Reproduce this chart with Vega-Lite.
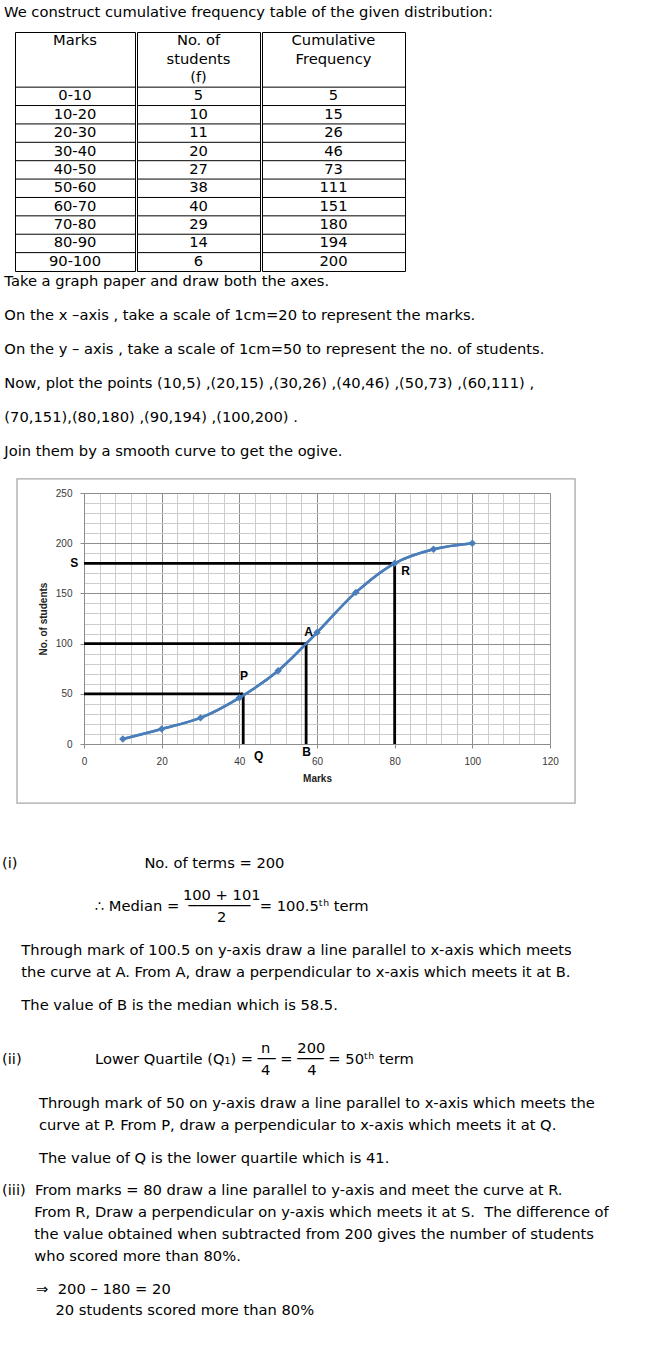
{
  "$schema": "https://vega.github.io/schema/vega-lite/v6.json",
  "background": "white",
  "padding": {"left": 2, "top": 4, "right": 0, "bottom": 0},
  "spacing": 2,
  "config": {
    "view": {"stroke": null},
    "font": "DejaVu Sans",
    "title": {"font": "DejaVu Sans", "fontSize": 14.7, "fontWeight": "normal", "color": "#000", "anchor": "start"},
    "axis": {
      "labelFont": "Liberation Sans", "labelFontSize": 10, "labelColor": "#3a3a3a",
      "titleFont": "Liberation Sans", "titleFontSize": 10, "titleFontWeight": "bold", "titleColor": "#222",
      "domainColor": "#8c8c8c", "tickColor": "#8c8c8c", "tickSize": 4, "labelPadding": 8,
      "labelFlush": false, "labelOverlap": false, "gridWidth": 1
    }
  },
  "datasets": {
    "table": [
      {"marks": "0-10", "f": 5, "cf": 5},
      {"marks": "10-20", "f": 10, "cf": 15},
      {"marks": "20-30", "f": 11, "cf": 26},
      {"marks": "30-40", "f": 20, "cf": 46},
      {"marks": "40-50", "f": 27, "cf": 73},
      {"marks": "50-60", "f": 38, "cf": 111},
      {"marks": "60-70", "f": 40, "cf": 151},
      {"marks": "70-80", "f": 29, "cf": 180},
      {"marks": "80-90", "f": 14, "cf": 194},
      {"marks": "90-100", "f": 6, "cf": 200}
    ],
    "head": [
      {"col": "marks", "line": "h1", "text": "Marks"},
      {"col": "f", "line": "h1", "text": "No. of"},
      {"col": "f", "line": "h2", "text": "students"},
      {"col": "f", "line": "h3", "text": "(f)"},
      {"col": "cf", "line": "h1", "text": "Cumulative"},
      {"col": "cf", "line": "h2", "text": "Frequency"}
    ],
    "ogive": [
      {"marks": 10, "students": 5},
      {"marks": 20, "students": 15},
      {"marks": 30, "students": 26},
      {"marks": 40, "students": 46},
      {"marks": 50, "students": 73},
      {"marks": 60, "students": 111},
      {"marks": 70, "students": 151},
      {"marks": 80, "students": 180},
      {"marks": 90, "students": 194},
      {"marks": 100, "students": 200}
    ],
    "guides": [
      {"marks": 0, "marks2": 80, "students": 180, "students2": 180},
      {"marks": 80, "marks2": 80, "students": 0, "students2": 180},
      {"marks": 0, "marks2": 57.2, "students": 100, "students2": 100},
      {"marks": 57.2, "marks2": 57.2, "students": 0, "students2": 100},
      {"marks": 0, "marks2": 41, "students": 50, "students2": 50},
      {"marks": 41, "marks2": 41, "students": 0, "students2": 50}
    ],
    "points": [
      {"label": "S", "marks": -2.5, "students": 180},
      {"label": "R", "marks": 82.8, "students": 172.5},
      {"label": "A", "marks": 57.8, "students": 112},
      {"label": "P", "marks": 41.2, "students": 68},
      {"label": "Q", "marks": 45, "students": -11.5},
      {"label": "B", "marks": 57.3, "students": -7.5}
    ]
  },
  "title": {
    "orient": "bottom",
    "anchor": "start",
    "dx": -1,
    "offset": 52,
    "lineHeight": 10.92,
    "text": [
      "\u200b(i)\u2003\u2003\u2003\u2003\u2003\u2003\u2003\u2003\u00a0\u00a0No. of terms = 200",
      "\u200b\u00a0",
      "\u200b\u00a0",
      "\u200b\u2003\u2003\u2003\u2003\u2003\u2003\u2003\u2003\u2003\u2003\u2003\u2003\u00a0100 + 101",
      "\u200b\u2003\u2003\u2003\u2003\u2003\u2003\u00a0\u2234 Median = \u00a0\u2500\u2500\u2500\u2500\u2500\u2500\u2500\u00a0 = 100.5\u1d57\u02b0 term",
      "\u200b\u2003\u2003\u2003\u2003\u2003\u2003\u2003\u2003\u2003\u2003\u2003\u2003\u2003\u2003\u00a0\u00a02",
      "\u200b\u00a0",
      "\u200b\u00a0",
      "\u200b\u2003\u00a0Through mark of 100.5 on y-axis draw a line parallel to x-axis which meets",
      "\u200b\u00a0",
      "\u200b\u2003\u00a0the curve at A. From A, draw a perpendicular to x-axis which meets it at B.",
      "\u200b\u00a0",
      "\u200b\u00a0",
      "\u200b\u2003\u00a0The value of B is the median which is 58.5.",
      "\u200b\u00a0",
      "\u200b\u00a0",
      "\u200b\u00a0",
      "\u200b\u2003\u2003\u2003\u2003\u2003\u2003\u2003\u2003\u2003\u2003\u2003\u2003\u2003\u2003\u2003\u2003\u2003\u00a0\u00a0n\u2003\u00a0\u00a0\u2009200",
      "\u200b(ii)\u2003\u2003\u2003\u2003\u2003Lower Quartile (Q\u2081) = \u2500\u2500 = \u2500\u2500\u2500 = 50\u1d57\u02b0 term",
      "\u200b\u2003\u2003\u2003\u2003\u2003\u2003\u2003\u2003\u2003\u2003\u2003\u2003\u2003\u2003\u2003\u2003\u2003\u00a0\u00a04\u2003\u2003\u00a0\u20094",
      "\u200b\u00a0",
      "\u200b\u00a0",
      "\u200b\u2003\u2003\u00a0\u2009Through mark of 50 on y-axis draw a line parallel to x-axis which meets the",
      "\u200b\u00a0",
      "\u200b\u2003\u2003\u00a0\u2009curve at P. From P, draw a perpendicular to x-axis which meets it at Q.",
      "\u200b\u00a0",
      "\u200b\u00a0",
      "\u200b\u2003\u2003\u00a0\u2009The value of Q is the lower quartile which is 41.",
      "\u200b\u00a0",
      "\u200b\u00a0",
      "\u200b(iii)\u00a0\u00a0From marks = 80 draw a line parallel to y-axis and meet the curve at R.",
      "\u200b\u00a0",
      "\u200b\u2003\u2003\u2009From R, Draw a perpendicular on y-axis which meets it at S.\u00a0 The difference of",
      "\u200b\u00a0",
      "\u200b\u2003\u2003\u2009the value obtained when subtracted from 200 gives the number of students",
      "\u200b\u00a0",
      "\u200b\u2003\u2003\u2009who scored more than 80%.",
      "\u200b\u00a0",
      "\u200b\u00a0",
      "\u200b\u2003\u2003\u00a0\u21d2\u00a0\u00a0200 \u2013 180 = 20",
      "\u200b\u00a0",
      "\u200b\u2003\u2003\u2003\u00a0\u00a020 students scored more than 80%"
    ]
  },
  "vconcat": [
    {
      "title": {"text": "We construct cumulative frequency table of the given distribution:", "anchor": "start", "offset": 12, "dx": 1},
      "spacing": 0,
      "hconcat": [
        {
          "width": 11, "height": 239,
          "view": {"fill": "white", "stroke": null},
          "data": {"values": [{}]},
          "mark": {"type": "rect", "opacity": 0},
          "encoding": {}
        },
        {
          "width": 120, "height": 239,
          "view": {"stroke": "#000", "strokeWidth": 1},
          "encoding": {"y": {"field": "marks", "type": "ordinal", "axis": null, "scale": {"type": "band", "domain": ["h1","h2","h3","0-10","10-20","20-30","30-40","40-50","50-60","60-70","70-80","80-90","90-100"], "paddingInner": 0, "paddingOuter": 0}}},
          "layer": [
            {"data": {"name": "table"}, "mark": {"type": "rule", "color": "#000", "strokeWidth": 1}, "encoding": {"y": {"field": "marks", "type": "ordinal", "bandPosition": 0}}},
            {"data": {"name": "table"}, "mark": {"type": "text", "fontSize": 14.7, "color": "#000"}, "encoding": {"text": {"field": "marks", "type": "nominal"}}},
            {"data": {"name": "head"}, "transform": [{"filter": "datum.col === 'marks'"}], "mark": {"type": "text", "fontSize": 14.7, "color": "#000"}, "encoding": {"y": {"field": "line", "type": "ordinal"}, "text": {"field": "text", "type": "nominal"}}}
          ]
        },
        {
          "width": 123, "height": 239,
          "view": {"stroke": "#000", "strokeWidth": 1},
          "encoding": {"y": {"field": "marks", "type": "ordinal", "axis": null, "scale": {"type": "band", "domain": ["h1","h2","h3","0-10","10-20","20-30","30-40","40-50","50-60","60-70","70-80","80-90","90-100"], "paddingInner": 0, "paddingOuter": 0}}},
          "layer": [
            {"data": {"name": "table"}, "mark": {"type": "rule", "color": "#000", "strokeWidth": 1}, "encoding": {"y": {"field": "marks", "type": "ordinal", "bandPosition": 0}}},
            {"data": {"name": "table"}, "mark": {"type": "text", "fontSize": 14.7, "color": "#000"}, "encoding": {"text": {"field": "f", "type": "nominal"}}},
            {"data": {"name": "head"}, "transform": [{"filter": "datum.col === 'f'"}], "mark": {"type": "text", "fontSize": 14.7, "color": "#000"}, "encoding": {"y": {"field": "line", "type": "ordinal"}, "text": {"field": "text", "type": "nominal"}}}
          ]
        },
        {
          "width": 143, "height": 239,
          "view": {"stroke": "#000", "strokeWidth": 1},
          "encoding": {"y": {"field": "marks", "type": "ordinal", "axis": null, "scale": {"type": "band", "domain": ["h1","h2","h3","0-10","10-20","20-30","30-40","40-50","50-60","60-70","70-80","80-90","90-100"], "paddingInner": 0, "paddingOuter": 0}}},
          "layer": [
            {"data": {"name": "table"}, "mark": {"type": "rule", "color": "#000", "strokeWidth": 1}, "encoding": {"y": {"field": "marks", "type": "ordinal", "bandPosition": 0}}},
            {"data": {"name": "table"}, "mark": {"type": "text", "fontSize": 14.7, "color": "#000"}, "encoding": {"text": {"field": "cf", "type": "nominal"}}},
            {"data": {"name": "head"}, "transform": [{"filter": "datum.col === 'cf'"}], "mark": {"type": "text", "fontSize": 14.7, "color": "#000"}, "encoding": {"y": {"field": "line", "type": "ordinal"}, "text": {"field": "text", "type": "nominal"}}}
          ]
        }
      ]
    },
    {
      "spacing": 0,
      "hconcat": [
        {
          "width": 1, "height": 1,
          "view": {"fill": "white", "stroke": null},
          "data": {"values": [{}]},
          "mark": {"type": "rect", "opacity": 0},
          "encoding": {}
        },
        {
          "title": {
            "text": [
              "Take a graph paper and draw both the axes.",
              "On the x \u2013axis , take a scale of 1cm=20 to represent the marks.",
              "On the y \u2013 axis , take a scale of 1cm=50 to represent the no. of students.",
              "Now, plot the points (10,5) ,(20,15) ,(30,26) ,(40,46) ,(50,73) ,(60,111) ,",
              "(70,151),(80,180) ,(90,194) ,(100,200) .",
              "Join them by a smooth curve to get the ogive."
            ],
            "anchor": "start", "dx": -12, "lineHeight": 33.85, "offset": 20
          },
          "width": 466,
          "height": 251,
          "layer": [
            {
              "data": {"name": "ogive"},
              "mark": {"type": "line", "interpolate": "catmull-rom", "color": "#4a7ebb", "strokeWidth": 2.5},
              "encoding": {
                "x": {
                  "field": "marks", "type": "quantitative",
                  "scale": {"domain": [0, 120], "nice": false, "zero": false},
                  "axis": {
                    "title": "Marks", "titlePadding": 7, "tickCount": 100,
                    "values": [0,4,8,12,16,20,24,28,32,36,40,44,48,52,56,60,64,68,72,76,80,84,88,92,96,100,104,108,112,116,120],
                    "labelExpr": "datum.value % 20 === 0 ? datum.label : ''",
                    "tickOpacity": {"condition": {"test": "datum.value % 20 === 0", "value": 1}, "value": 0},
                    "grid": true,
                    "gridColor": {"condition": {"test": "datum.value % 20 === 0", "value": "#8e8e8e"}, "value": "#cdcdcd"}
                  }
                },
                "y": {
                  "field": "students", "type": "quantitative",
                  "scale": {"domain": [0, 250], "nice": false, "zero": false},
                  "axis": {
                    "title": "No. of students", "titlePadding": 7, "tickCount": 100,
                    "values": [0,10,20,30,40,50,60,70,80,90,100,110,120,130,140,150,160,170,180,190,200,210,220,230,240,250],
                    "labelExpr": "datum.value % 50 === 0 ? datum.label : ''",
                    "tickOpacity": {"condition": {"test": "datum.value % 50 === 0", "value": 1}, "value": 0},
                    "grid": true,
                    "gridColor": {"condition": {"test": "datum.value % 50 === 0", "value": "#8e8e8e"}, "value": "#cdcdcd"}
                  }
                }
              }
            },
            {
              "data": {"values": [{}]},
              "mark": {"type": "rect", "fill": "white", "fillOpacity": 0, "stroke": "#a8a8a8", "strokeWidth": 1.3},
              "encoding": {
                "x": {
                  "datum": -17.25, "type": "quantitative",
                  "scale": {"domain": [0, 120], "nice": false, "zero": false},
                  "axis": {
                    "title": "Marks", "titlePadding": 7, "tickCount": 100,
                    "values": [0,4,8,12,16,20,24,28,32,36,40,44,48,52,56,60,64,68,72,76,80,84,88,92,96,100,104,108,112,116,120],
                    "labelExpr": "datum.value % 20 === 0 ? datum.label : ''",
                    "tickOpacity": {"condition": {"test": "datum.value % 20 === 0", "value": 1}, "value": 0},
                    "grid": true,
                    "gridColor": {"condition": {"test": "datum.value % 20 === 0", "value": "#8e8e8e"}, "value": "#cdcdcd"}
                  }
                },
                "x2": {"datum": 126.45},
                "y": {
                  "datum": 264, "type": "quantitative",
                  "scale": {"domain": [0, 250], "nice": false, "zero": false},
                  "axis": {
                    "title": "No. of students", "titlePadding": 7, "tickCount": 100,
                    "values": [0,10,20,30,40,50,60,70,80,90,100,110,120,130,140,150,160,170,180,190,200,210,220,230,240,250],
                    "labelExpr": "datum.value % 50 === 0 ? datum.label : ''",
                    "tickOpacity": {"condition": {"test": "datum.value % 50 === 0", "value": 1}, "value": 0},
                    "grid": true,
                    "gridColor": {"condition": {"test": "datum.value % 50 === 0", "value": "#8e8e8e"}, "value": "#cdcdcd"}
                  }
                },
                "y2": {"datum": -58.8}
              }
            },
            {
              "data": {"name": "guides"},
              "mark": {"type": "rule", "color": "#000", "strokeWidth": 2.8},
              "encoding": {
                "x": {"field": "marks", "type": "quantitative", "scale": {"domain": [0, 120], "nice": false, "zero": false}},
                "x2": {"field": "marks2"},
                "y": {"field": "students", "type": "quantitative", "scale": {"domain": [0, 250], "nice": false, "zero": false}},
                "y2": {"field": "students2"}
              }
            },
            {
              "data": {"name": "ogive"},
              "mark": {"type": "line", "interpolate": "catmull-rom", "color": "#4a7ebb", "strokeWidth": 2.5},
              "encoding": {
                "x": {"field": "marks", "type": "quantitative", "scale": {"domain": [0, 120], "nice": false, "zero": false}},
                "y": {"field": "students", "type": "quantitative", "scale": {"domain": [0, 250], "nice": false, "zero": false}}
              }
            },
            {
              "data": {"name": "ogive"},
              "mark": {"type": "point", "shape": "diamond", "filled": true, "size": 55, "color": "#4a7ebb", "opacity": 1},
              "encoding": {
                "x": {"field": "marks", "type": "quantitative", "scale": {"domain": [0, 120], "nice": false, "zero": false}},
                "y": {"field": "students", "type": "quantitative", "scale": {"domain": [0, 250], "nice": false, "zero": false}}
              }
            },
            {
              "data": {"name": "points"},
              "mark": {"type": "text", "font": "Liberation Sans", "fontSize": 12, "fontWeight": "bold", "color": "#000"},
              "encoding": {
                "x": {"field": "marks", "type": "quantitative", "scale": {"domain": [0, 120], "nice": false, "zero": false}},
                "y": {"field": "students", "type": "quantitative", "scale": {"domain": [0, 250], "nice": false, "zero": false}},
                "text": {"field": "label", "type": "nominal"}
              }
            }
          ]
        }
      ]
    }
  ]
}
